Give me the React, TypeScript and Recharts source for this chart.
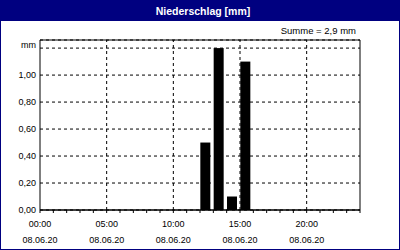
import {
  BarChart,
  Bar,
  XAxis,
  YAxis,
  CartesianGrid,
  ReferenceLine,
  ReferenceArea,
} from 'recharts';

// Niederschlag pro Stunde am 08.06.20
const hours = [12, 13, 14, 15];
const rain = [0.5, 1.2, 0.1, 1.1];
const date = '08.06.20';
const yTicks = [0, 0.2, 0.4, 0.6, 0.8, 1.0, 1.2];
const hourTicks = Array.from({ length: 25 }, (_, i) => i);
const labelHours = [0, 5, 10, 15, 20];

const data = hours.map((h, i) => ({ hour: h, mm: rain[i] }));
const total = rain.reduce((s, v) => s + v, 0);

const NAVY = '#000080';
const FONT = '"Liberation Sans", Arial, sans-serif';

function YTick({ x, y, payload }: any) {
  const v = payload.value as number;
  const isTop = v === yTicks[yTicks.length - 1];
  return (
    <text
      x={x}
      y={isTop ? y - 3 : y}
      textAnchor="end"
      dominantBaseline="central"
      fontSize={9}
      fontFamily={FONT}
      fill="#000"
    >
      {isTop ? 'mm' : v.toFixed(2).replace('.', ',')}
    </text>
  );
}

function XTick({ x, y, payload }: any) {
  const h = payload.value as number;
  if (!labelHours.includes(h)) return null;
  const hh = String(h).padStart(2, '0') + ':00';
  return (
    <g fontSize={9} fontFamily={FONT} fill="#000">
      <text x={x} y={y + 11} textAnchor="middle" dominantBaseline="central">
        {hh}
      </text>
      <text x={x} y={y + 27} textAnchor="middle" dominantBaseline="central">
        {date}
      </text>
    </g>
  );
}

// Balken beginnt am Anfang der Stunde
function HourBar({ x, y, width, height }: any) {
  if (!height) return null;
  return <rect x={x + width / 2} y={y} width={width} height={height} fill="#000" />;
}

export default function App() {
  return (
    <div
      style={{
        position: 'absolute',
        left: 0,
        top: 0,
        width: 400,
        height: 250,
        boxSizing: 'border-box',
        border: `1px solid ${NAVY}`,
        background: '#fff',
        fontFamily: FONT,
      }}
    >
      <div
        style={{
          position: 'absolute',
          left: 0,
          top: 0,
          width: 398,
          height: 20,
          background: NAVY,
          color: '#fff',
          fontWeight: 'bold',
          fontSize: 10.5,
          lineHeight: '20px',
          textAlign: 'center',
          paddingLeft: 6,
          boxSizing: 'border-box',
        }}
      >
        Niederschlag [mm]
      </div>
      <div
        style={{
          position: 'absolute',
          right: 43,
          top: 24,
          fontSize: 9.5,
          lineHeight: '12px',
          color: '#000',
        }}
      >
        Summe = {total.toFixed(1).replace('.', ',')} mm
      </div>
      <div style={{ position: 'absolute', left: -1, top: -1 }}>
        <BarChart
          width={400}
          height={250}
          data={data}
          margin={{ top: 40, right: 40, bottom: 0, left: 0 }}
        >
          <CartesianGrid
            vertical={false}
            stroke="#000"
            strokeDasharray="3 3"
          />
          {labelHours.slice(1).map((h) => (
            <ReferenceLine key={h} x={h} stroke="#000" strokeDasharray="3 3" />
          ))}
          <XAxis
            dataKey="hour"
            type="number"
            domain={[0, 24]}
            ticks={hourTicks}
            interval={0}
            height={40}
            stroke="#000"
            tickSize={3}
            tickMargin={0}
            tick={<XTick />}
          />
          <YAxis
            type="number"
            domain={[0, 1.26]}
            ticks={yTicks}
            interval={0}
            width={40}
            axisLine={false}
            tickLine={false}
            tickSize={0}
            tickMargin={4}
            tick={<YTick />}
          />
          <ReferenceArea
            x1={0}
            x2={24}
            y1={0}
            y2={1.26}
            fill="none"
            stroke="#000"
            strokeOpacity={1}
          />
          <Bar dataKey="mm" barSize={10} shape={<HourBar />} isAnimationActive={false} />
        </BarChart>
      </div>
    </div>
  );
}
